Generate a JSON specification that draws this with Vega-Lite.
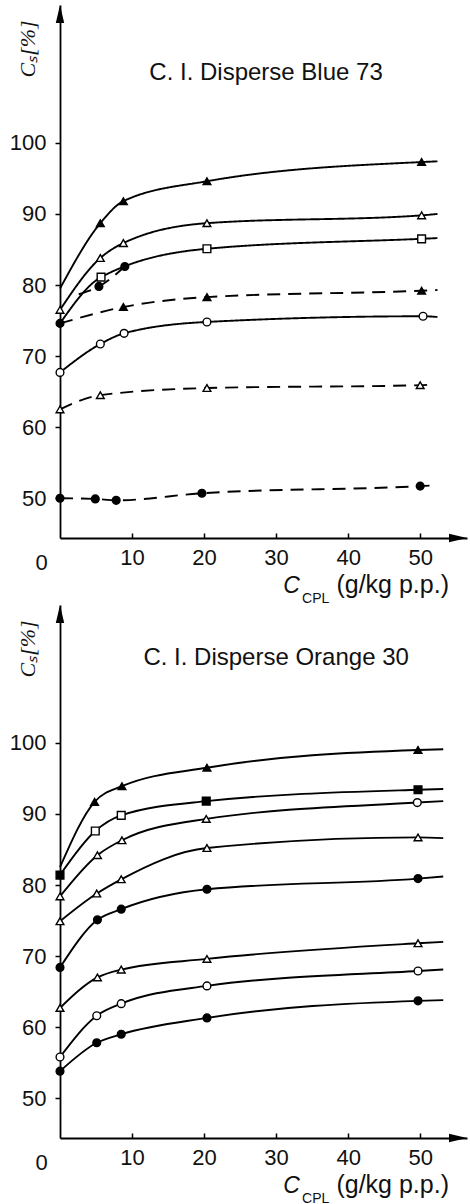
{
  "$schema": "https://vega.github.io/schema/vega-lite/v6.json",
  "autosize": {"type": "pad"},
  "padding": {"left": 9, "top": 5, "right": 3, "bottom": 0},
  "background": "white",
  "spacing": 67,
  "bounds": "flush",
  "config": {"view": {"stroke": null}, "font": "Liberation Sans"},
  "datasets": {
    "blue": [
      {"series": "b1", "x": 0, "y": 79.5, "marker": null},
      {"series": "b1", "x": 5.6, "y": 88.7, "marker": "filled triangle"},
      {"series": "b1", "x": 8.8, "y": 91.8, "marker": "filled triangle"},
      {"series": "b1", "x": 20.4, "y": 94.6, "marker": "filled triangle"},
      {"series": "b1", "x": 50.2, "y": 97.3, "marker": "filled triangle"},
      {"series": "b1", "x": 52.4, "y": 97.4, "marker": null},
      {"series": "b2", "x": 0, "y": 76.5, "marker": "open triangle"},
      {"series": "b2", "x": 5.6, "y": 83.8, "marker": "open triangle"},
      {"series": "b2", "x": 8.8, "y": 85.9, "marker": "open triangle"},
      {"series": "b2", "x": 20.4, "y": 88.7, "marker": "open triangle"},
      {"series": "b2", "x": 50.2, "y": 89.8, "marker": "open triangle"},
      {"series": "b2", "x": 52.4, "y": 90.0, "marker": null},
      {"series": "b3", "x": 0, "y": 74.6, "marker": null},
      {"series": "b3", "x": 5.7, "y": 81.1, "marker": "open square"},
      {"series": "b3", "x": 20.4, "y": 85.1, "marker": "open square"},
      {"series": "b3", "x": 50.2, "y": 86.5, "marker": "open square"},
      {"series": "b3", "x": 52.4, "y": 86.6, "marker": null},
      {"series": "b4", "x": 2.6, "y": 78.7, "marker": null},
      {"series": "b4", "x": 5.4, "y": 79.8, "marker": "filled circle"},
      {"series": "b4", "x": 9.0, "y": 82.6, "marker": "filled circle"},
      {"series": "b5", "x": 0, "y": 74.6, "marker": "filled circle"},
      {"series": "b5", "x": 8.8, "y": 76.9, "marker": "filled triangle"},
      {"series": "b5", "x": 20.4, "y": 78.3, "marker": "filled triangle"},
      {"series": "b5", "x": 50.2, "y": 79.2, "marker": "filled triangle"},
      {"series": "b5", "x": 52.4, "y": 79.3, "marker": null},
      {"series": "b6", "x": 0, "y": 67.7, "marker": "open circle"},
      {"series": "b6", "x": 5.6, "y": 71.7, "marker": "open circle"},
      {"series": "b6", "x": 8.9, "y": 73.2, "marker": "open circle"},
      {"series": "b6", "x": 20.4, "y": 74.8, "marker": "open circle"},
      {"series": "b6", "x": 50.4, "y": 75.6, "marker": "open circle"},
      {"series": "b6", "x": 52.4, "y": 75.5, "marker": null},
      {"series": "b7", "x": 0, "y": 62.5, "marker": "open triangle"},
      {"series": "b7", "x": 5.6, "y": 64.5, "marker": "open triangle"},
      {"series": "b7", "x": 20.4, "y": 65.5, "marker": "open triangle"},
      {"series": "b7", "x": 50.0, "y": 65.9, "marker": "open triangle"},
      {"series": "b7", "x": 51.6, "y": 66.0, "marker": null},
      {"series": "b8", "x": 0, "y": 50.0, "marker": "filled circle"},
      {"series": "b8", "x": 4.9, "y": 49.9, "marker": "filled circle"},
      {"series": "b8", "x": 7.8, "y": 49.7, "marker": "filled circle"},
      {"series": "b8", "x": 19.7, "y": 50.7, "marker": "filled circle"},
      {"series": "b8", "x": 50.0, "y": 51.7, "marker": "filled circle"},
      {"series": "b8", "x": 51.8, "y": 51.8, "marker": null}
    ],
    "orange": [
      {"series": "o1", "x": 0, "y": 82.5, "marker": null},
      {"series": "o1", "x": 4.8, "y": 91.7, "marker": "filled triangle"},
      {"series": "o1", "x": 8.6, "y": 93.9, "marker": "filled triangle"},
      {"series": "o1", "x": 20.4, "y": 96.5, "marker": "filled triangle"},
      {"series": "o1", "x": 49.7, "y": 99.0, "marker": "filled triangle"},
      {"series": "o1", "x": 53.2, "y": 99.1, "marker": null},
      {"series": "o2", "x": 0, "y": 81.4, "marker": "filled square"},
      {"series": "o2", "x": 4.9, "y": 87.6, "marker": "open square"},
      {"series": "o2", "x": 8.5, "y": 89.8, "marker": "open square"},
      {"series": "o2", "x": 20.3, "y": 91.8, "marker": "filled square"},
      {"series": "o2", "x": 49.7, "y": 93.4, "marker": "filled square"},
      {"series": "o2", "x": 53.2, "y": 93.5, "marker": null},
      {"series": "o3", "x": 0, "y": 78.4, "marker": "open triangle"},
      {"series": "o3", "x": 5.2, "y": 84.2, "marker": "open triangle"},
      {"series": "o3", "x": 8.6, "y": 86.3, "marker": "open triangle"},
      {"series": "o3", "x": 20.3, "y": 89.3, "marker": "open triangle"},
      {"series": "o3", "x": 49.6, "y": 91.6, "marker": "open circle"},
      {"series": "o3", "x": 53.2, "y": 91.8, "marker": null},
      {"series": "o4", "x": 0, "y": 74.9, "marker": "open triangle"},
      {"series": "o4", "x": 5.1, "y": 78.8, "marker": "open triangle"},
      {"series": "o4", "x": 8.5, "y": 80.8, "marker": "open triangle"},
      {"series": "o4", "x": 20.4, "y": 85.2, "marker": "open triangle"},
      {"series": "o4", "x": 49.7, "y": 86.7, "marker": "open triangle"},
      {"series": "o4", "x": 53.2, "y": 86.6, "marker": null},
      {"series": "o5", "x": 0, "y": 68.4, "marker": "filled circle"},
      {"series": "o5", "x": 5.2, "y": 75.1, "marker": "filled circle"},
      {"series": "o5", "x": 8.5, "y": 76.6, "marker": "filled circle"},
      {"series": "o5", "x": 20.4, "y": 79.4, "marker": "filled circle"},
      {"series": "o5", "x": 49.7, "y": 80.9, "marker": "filled circle"},
      {"series": "o5", "x": 53.2, "y": 81.2, "marker": null},
      {"series": "o6", "x": 0, "y": 62.7, "marker": "open triangle"},
      {"series": "o6", "x": 5.2, "y": 67.0, "marker": "open triangle"},
      {"series": "o6", "x": 8.5, "y": 68.1, "marker": "open triangle"},
      {"series": "o6", "x": 20.4, "y": 69.6, "marker": "open triangle"},
      {"series": "o6", "x": 49.7, "y": 71.8, "marker": "open triangle"},
      {"series": "o6", "x": 53.2, "y": 72.0, "marker": null},
      {"series": "o7", "x": 0, "y": 55.8, "marker": "open circle"},
      {"series": "o7", "x": 5.1, "y": 61.6, "marker": "open circle"},
      {"series": "o7", "x": 8.5, "y": 63.3, "marker": "open circle"},
      {"series": "o7", "x": 20.4, "y": 65.8, "marker": "open circle"},
      {"series": "o7", "x": 49.7, "y": 67.9, "marker": "open circle"},
      {"series": "o7", "x": 53.2, "y": 68.1, "marker": null},
      {"series": "o8", "x": 0, "y": 53.8, "marker": "filled circle"},
      {"series": "o8", "x": 5.1, "y": 57.8, "marker": "filled circle"},
      {"series": "o8", "x": 8.5, "y": 59.0, "marker": "filled circle"},
      {"series": "o8", "x": 20.4, "y": 61.3, "marker": "filled circle"},
      {"series": "o8", "x": 49.7, "y": 63.7, "marker": "filled circle"},
      {"series": "o8", "x": 53.2, "y": 63.8, "marker": null}
    ]
  },
  "vconcat": [
    {
      "width": 407,
      "height": 533,
      "layer": [
        {
          "data": {"name": "blue"},
          "mark": {"type": "line", "interpolate": "monotone", "color": "black", "strokeWidth": 1.9},
          "encoding": {
            "x": {"field": "x", "type": "quantitative", "title": null,
              "scale": {"domain": [0, 56.5], "nice": false, "zero": false},
              "axis": {"values": [0, 10, 20, 30, 40, 50], "grid": false, "domainColor": "black", "domainWidth": 1.8,
                "tickColor": "black", "tickWidth": 1.5,
                "tickSize": {"condition": {"test": "datum.value === 0", "value": 0}, "value": -5},
                "labelOffset": {"condition": {"test": "datum.value === 0", "value": -19}, "value": 0},
                "labelFont": "Liberation Sans", "labelFontSize": 22, "labelColor": "#111", "labelPadding": 14,
                "labelFlush": false, "labelOverlap": false}},
            "y": {"field": "y", "type": "quantitative", "title": null,
              "scale": {"domain": [44.4, 119.4], "nice": false, "zero": false},
              "axis": {"values": [50, 60, 70, 80, 90, 100], "grid": false, "domainColor": "black", "domainWidth": 1.8,
                "tickColor": "black", "tickWidth": 1.5, "tickSize": 5,
                "labelFont": "Liberation Sans", "labelFontSize": 22, "labelColor": "#111", "labelPadding": 9,
                "labelFlush": false, "labelOverlap": false}},
            "detail": {"field": "series"},
            "strokeDash": {"field": "series", "type": "nominal", "legend": null,
              "scale": {"domain": ["b1", "b2", "b3", "b4", "b5", "b6", "b7", "b8"],
                "range": [[1, 0], [1, 0], [1, 0], [13, 8], [13, 8], [1, 0], [13, 8], [13, 8]]}},
            "order": {"field": "x", "type": "quantitative"}
          }
        },
        {
          "data": {"name": "blue"},
          "transform": [{"filter": "datum.marker != null"}],
          "mark": {"type": "point", "filled": true, "stroke": "black", "strokeWidth": 1.4, "size": 60, "opacity": 1},
          "encoding": {
            "x": {"field": "x", "type": "quantitative", "title": null},
            "y": {"field": "y", "type": "quantitative", "title": null},
            "shape": {"field": "marker", "type": "nominal", "legend": null,
              "scale": {"domain": ["filled triangle", "open triangle", "filled circle", "open circle", "open square", "filled square"],
                "range": ["triangle-up", "triangle-up", "circle", "circle", "square", "square"]}},
            "fill": {"field": "marker", "type": "nominal", "legend": null,
              "scale": {"domain": ["filled triangle", "open triangle", "filled circle", "open circle", "open square", "filled square"],
                "range": ["black", "white", "black", "white", "white", "black"]}}
          }
        },
        {
          "data": {"values": [{}]},
          "mark": {"type": "point", "shape": "M0,0L0.42,1.8L-0.42,1.8Z", "filled": true, "color": "black", "size": 400, "opacity": 1},
          "encoding": {"x": {"datum": 0, "type": "quantitative", "title": null}, "y": {"datum": 119.4, "type": "quantitative", "title": null}}
        },
        {
          "data": {"values": [{}]},
          "mark": {"type": "point", "shape": "M0,0L-1.8,-0.42L-1.8,0.42Z", "filled": true, "color": "black", "size": 400, "opacity": 1},
          "encoding": {"x": {"datum": 56.5, "type": "quantitative", "title": null}, "y": {"datum": 44.4, "type": "quantitative", "title": null}}
        },
        {
          "data": {"values": [{}]},
          "mark": {"type": "text", "text": "C. I. Disperse Blue 73", "font": "Liberation Sans", "fontSize": 24, "color": "#111", "align": "center", "baseline": "middle"},
          "encoding": {"x": {"datum": 28.6, "type": "quantitative", "title": null}, "y": {"datum": 109.9, "type": "quantitative", "title": null}}
        },
        {
          "data": {"values": [{}]},
          "mark": {"type": "text", "text": "Cₛ[%]", "font": "Liberation Serif", "fontStyle": "italic", "fontSize": 22, "color": "#111", "align": "center", "baseline": "middle", "angle": 270, "dx": -44, "dy": -32},
          "encoding": {"x": {"datum": 0, "type": "quantitative", "title": null}, "y": {"datum": 119.4, "type": "quantitative", "title": null}}
        },
        {
          "data": {"values": [{}]},
          "mark": {"type": "text", "text": "C", "font": "Liberation Sans", "fontStyle": "italic", "fontSize": 23, "color": "#111", "align": "left", "baseline": "alphabetic", "dy": 55},
          "encoding": {"x": {"datum": 31.0, "type": "quantitative", "title": null}, "y": {"datum": 44.4, "type": "quantitative", "title": null}}
        },
        {
          "data": {"values": [{}]},
          "mark": {"type": "text", "text": "CPL", "font": "Liberation Sans", "fontSize": 14, "color": "#111", "align": "left", "baseline": "alphabetic", "dy": 65},
          "encoding": {"x": {"datum": 33.6, "type": "quantitative", "title": null}, "y": {"datum": 44.4, "type": "quantitative", "title": null}}
        },
        {
          "data": {"values": [{}]},
          "mark": {"type": "text", "text": "(g/kg p.p.)", "font": "Liberation Sans", "fontSize": 25, "color": "#111", "align": "right", "baseline": "alphabetic", "dy": 55},
          "encoding": {"x": {"datum": 54.0, "type": "quantitative", "title": null}, "y": {"datum": 44.4, "type": "quantitative", "title": null}}
        }
      ]
    },
    {
      "width": 407,
      "height": 533,
      "layer": [
        {
          "data": {"name": "orange"},
          "mark": {"type": "line", "interpolate": "monotone", "color": "black", "strokeWidth": 1.9},
          "encoding": {
            "x": {"field": "x", "type": "quantitative", "title": null,
              "scale": {"domain": [0, 56.5], "nice": false, "zero": false},
              "axis": {"values": [0, 10, 20, 30, 40, 50], "grid": false, "domainColor": "black", "domainWidth": 1.8,
                "tickColor": "black", "tickWidth": 1.5,
                "tickSize": {"condition": {"test": "datum.value === 0", "value": 0}, "value": -5},
                "labelOffset": {"condition": {"test": "datum.value === 0", "value": -19}, "value": 0},
                "labelFont": "Liberation Sans", "labelFontSize": 22, "labelColor": "#111", "labelPadding": 14,
                "labelFlush": false, "labelOverlap": false}},
            "y": {"field": "y", "type": "quantitative", "title": null,
              "scale": {"domain": [44.4, 119.4], "nice": false, "zero": false},
              "axis": {"values": [50, 60, 70, 80, 90, 100], "grid": false, "domainColor": "black", "domainWidth": 1.8,
                "tickColor": "black", "tickWidth": 1.5, "tickSize": 5,
                "labelFont": "Liberation Sans", "labelFontSize": 22, "labelColor": "#111", "labelPadding": 9,
                "labelFlush": false, "labelOverlap": false}},
            "detail": {"field": "series"},
            "order": {"field": "x", "type": "quantitative"}
          }
        },
        {
          "data": {"name": "orange"},
          "transform": [{"filter": "datum.marker != null"}],
          "mark": {"type": "point", "filled": true, "stroke": "black", "strokeWidth": 1.4, "size": 60, "opacity": 1},
          "encoding": {
            "x": {"field": "x", "type": "quantitative", "title": null},
            "y": {"field": "y", "type": "quantitative", "title": null},
            "shape": {"field": "marker", "type": "nominal", "legend": null,
              "scale": {"domain": ["filled triangle", "open triangle", "filled circle", "open circle", "open square", "filled square"],
                "range": ["triangle-up", "triangle-up", "circle", "circle", "square", "square"]}},
            "fill": {"field": "marker", "type": "nominal", "legend": null,
              "scale": {"domain": ["filled triangle", "open triangle", "filled circle", "open circle", "open square", "filled square"],
                "range": ["black", "white", "black", "white", "white", "black"]}}
          }
        },
        {
          "data": {"values": [{}]},
          "mark": {"type": "point", "shape": "M0,0L0.42,1.8L-0.42,1.8Z", "filled": true, "color": "black", "size": 400, "opacity": 1},
          "encoding": {"x": {"datum": 0, "type": "quantitative", "title": null}, "y": {"datum": 119.4, "type": "quantitative", "title": null}}
        },
        {
          "data": {"values": [{}]},
          "mark": {"type": "point", "shape": "M0,0L-1.8,-0.42L-1.8,0.42Z", "filled": true, "color": "black", "size": 400, "opacity": 1},
          "encoding": {"x": {"datum": 56.5, "type": "quantitative", "title": null}, "y": {"datum": 44.4, "type": "quantitative", "title": null}}
        },
        {
          "data": {"values": [{}]},
          "mark": {"type": "text", "text": "C. I. Disperse Orange 30", "font": "Liberation Sans", "fontSize": 24, "color": "#111", "align": "center", "baseline": "middle"},
          "encoding": {"x": {"datum": 30.0, "type": "quantitative", "title": null}, "y": {"datum": 111.9, "type": "quantitative", "title": null}}
        },
        {
          "data": {"values": [{}]},
          "mark": {"type": "text", "text": "Cₛ[%]", "font": "Liberation Serif", "fontStyle": "italic", "fontSize": 22, "color": "#111", "align": "center", "baseline": "middle", "angle": 270, "dx": -44, "dy": -32},
          "encoding": {"x": {"datum": 0, "type": "quantitative", "title": null}, "y": {"datum": 119.4, "type": "quantitative", "title": null}}
        },
        {
          "data": {"values": [{}]},
          "mark": {"type": "text", "text": "C", "font": "Liberation Sans", "fontStyle": "italic", "fontSize": 23, "color": "#111", "align": "left", "baseline": "alphabetic", "dy": 55},
          "encoding": {"x": {"datum": 31.0, "type": "quantitative", "title": null}, "y": {"datum": 44.4, "type": "quantitative", "title": null}}
        },
        {
          "data": {"values": [{}]},
          "mark": {"type": "text", "text": "CPL", "font": "Liberation Sans", "fontSize": 14, "color": "#111", "align": "left", "baseline": "alphabetic", "dy": 65},
          "encoding": {"x": {"datum": 33.6, "type": "quantitative", "title": null}, "y": {"datum": 44.4, "type": "quantitative", "title": null}}
        },
        {
          "data": {"values": [{}]},
          "mark": {"type": "text", "text": "(g/kg p.p.)", "font": "Liberation Sans", "fontSize": 25, "color": "#111", "align": "right", "baseline": "alphabetic", "dy": 55},
          "encoding": {"x": {"datum": 54.0, "type": "quantitative", "title": null}, "y": {"datum": 44.4, "type": "quantitative", "title": null}}
        }
      ]
    }
  ]
}
